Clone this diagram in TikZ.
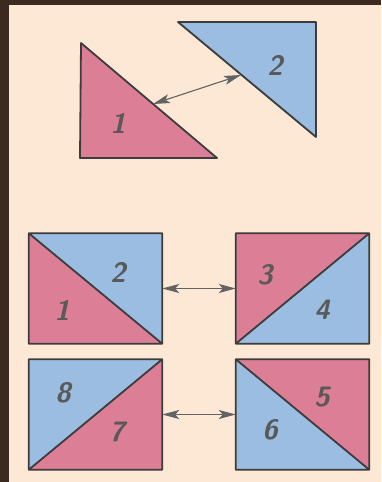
\documentclass[tikz,border=0pt]{standalone}
\usepackage{tikz}
\usetikzlibrary{arrows.meta}
\definecolor{frame}{HTML}{3A2A1F}
\definecolor{paper}{HTML}{FCE8D5}
\definecolor{rose}{HTML}{DC7E96}
\definecolor{sky}{HTML}{9BBDE1}
\definecolor{ink}{HTML}{3C3C3C}

\begin{document}
\begin{tikzpicture}[
    x=1pt,y=-1pt,
    edge/.style={draw=ink,line width=1.8pt,line join=round},
    box/.style={rectangle,inner sep=0pt,minimum width=133pt,minimum height=110pt},
    num/.style={font=\fontsize{28}{28}\selectfont\sffamily\bfseries\slshape,text=ink!85},
    swap/.style={{Stealth[length=17pt,width=9pt,inset=4pt]}-{Stealth[length=17pt,width=9pt,inset=4pt]},
      draw=ink!80,line width=1.1pt}]
    \fill[frame] (0,0) rectangle (381,482);
    \fill[paper] (9,5) rectangle (381,482);
    \useasboundingbox (0,0) rectangle (381,482);
    % two halves apart
    \filldraw[fill=rose,edge] (81,43) -- (80,158) -- (217,158) -- cycle;
    \filldraw[fill=sky,edge] (178,22) -- (316,22) -- (316,137) -- cycle;
    \coordinate (h1) at (153,104);
    \coordinate (h2) at (241,75);
    \draw[swap] (h1) -- (h2);
    \node[num] (n1) at (118,123) {1};
    \node[num] (n2) at (275,65) {2};
    % four rectangles
    \node[box] (qa) at (95.5,288.5) {};
    \node[box] (qb) at (302.5,288.5) {};
    \node[box] (qc) at (95.5,414.5) {};
    \node[box] (qd) at (302.5,414.5) {};
    \fill[rose] (qa.north west) -- (qa.south west) -- (qa.south east) -- cycle;
    \fill[sky] (qa.north west) -- (qa.north east) -- (qa.south east) -- cycle;
    \draw[edge] (qa.north west) rectangle (qa.south east) (qa.north west) -- (qa.south east);
    \fill[rose] (qb.south west) -- (qb.north west) -- (qb.north east) -- cycle;
    \fill[sky] (qb.south west) -- (qb.south east) -- (qb.north east) -- cycle;
    \draw[edge] (qb.north west) rectangle (qb.south east) (qb.south west) -- (qb.north east);
    \fill[sky] (qc.south west) -- (qc.north west) -- (qc.north east) -- cycle;
    \fill[rose] (qc.south west) -- (qc.south east) -- (qc.north east) -- cycle;
    \draw[edge] (qc.north west) rectangle (qc.south east) (qc.south west) -- (qc.north east);
    \fill[sky] (qd.north west) -- (qd.south west) -- (qd.south east) -- cycle;
    \fill[rose] (qd.north west) -- (qd.north east) -- (qd.south east) -- cycle;
    \draw[edge] (qd.north west) rectangle (qd.south east) (qd.north west) -- (qd.south east);
    \draw[swap] (qa) -- (qb);
    \draw[swap] (qc) -- (qd);
    \node[num] (a2) at (118,272) {2};
    \node[num] (a1) at (62,310) {1};
    \node[num] (b3) at (265,275) {3};
    \node[num] (b4) at (322,310) {4};
    \node[num] (c8) at (63,393) {8};
    \node[num] (c7) at (117,432) {7};
    \node[num] (d5) at (322,397) {5};
    \node[num] (d6) at (270,430) {6};
  \end{tikzpicture}
\end{document}
